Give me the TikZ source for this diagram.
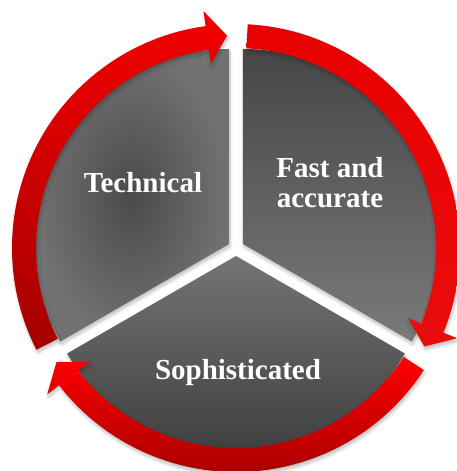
\documentclass[tikz,border=0pt]{standalone}
\usepackage{fontspec}
\setmainfont{Liberation Serif}
\usetikzlibrary{shadows.blur}
\definecolor{redA}{HTML}{F40000}
\definecolor{redB}{HTML}{A30000}
\definecolor{redC}{HTML}{E80000}
\definecolor{redD}{HTML}{FF0000}
\definecolor{redE}{HTML}{A80000}
\definecolor{grayDark}{HTML}{4A4A4A}
\definecolor{grayMid}{HTML}{727272}
\definecolor{grayLight}{HTML}{7A7A7A}
\tikzset{
  label text/.style={text=white, font=\bfseries\fontsize{29}{30}\selectfont, inner sep=0pt},
  soft shadow/.style={blur shadow={shadow blur steps=6, shadow xshift=1pt, shadow yshift=-3pt, shadow opacity=25, shadow blur radius=3pt}},
}
\newcommand{\cyclearrowpath}[3]{%
  (#1:224) arc[start angle=#1, end angle=#2, radius=224] -- (#2:239) -- (#3:212.5) -- (#2:186) -- (#2:200)
  arc[start angle=#2, end angle=#1, radius=200] -- cycle}
\begin{document}
\begin{tikzpicture}[x=1pt,y=1pt]
\useasboundingbox (0,0) rectangle (456,471);
\coordinate (c) at (236,223);
% sectors
\begin{scope}[shift={(c)}]
  \path[soft shadow, inner color=grayDark, outer color=grayMid]
    (150:8) -- ++(90:195) arc[start angle=90, end angle=210, radius=195] -- cycle;
  \path[soft shadow, top color=grayDark!95!black, bottom color=grayLight]
    (30:8) -- ++(-30:195) arc[start angle=-30, end angle=90, radius=195] -- cycle;
  \path[soft shadow, top color=grayLight!95!black, bottom color=grayDark!110]
    (270:8) -- ++(210:195) arc[start angle=210, end angle=330, radius=195] -- cycle;
  % arrows
  \path[soft shadow, top color=redA, bottom color=redB] \cyclearrowpath{207}{97.8}{92.4};
  \path[soft shadow, top color=redC, bottom color=redC!95!white] \cyclearrowpath{87}{-22.2}{-27.6};
  \path[soft shadow, top color=redD, bottom color=redE] \cyclearrowpath{-33}{-142.2}{-147.6};
\end{scope}
% labels
\node[label text, anchor=base] (technical) at (143,278) {Technical};
\node[label text, anchor=base] (fast) at (330,293) {Fast and};
\node[label text, anchor=base] (accurate) at (330,263) {accurate};
\node[label text, anchor=base] (soph) at (238,91) {Sophisticated};
\end{tikzpicture}
\end{document}
